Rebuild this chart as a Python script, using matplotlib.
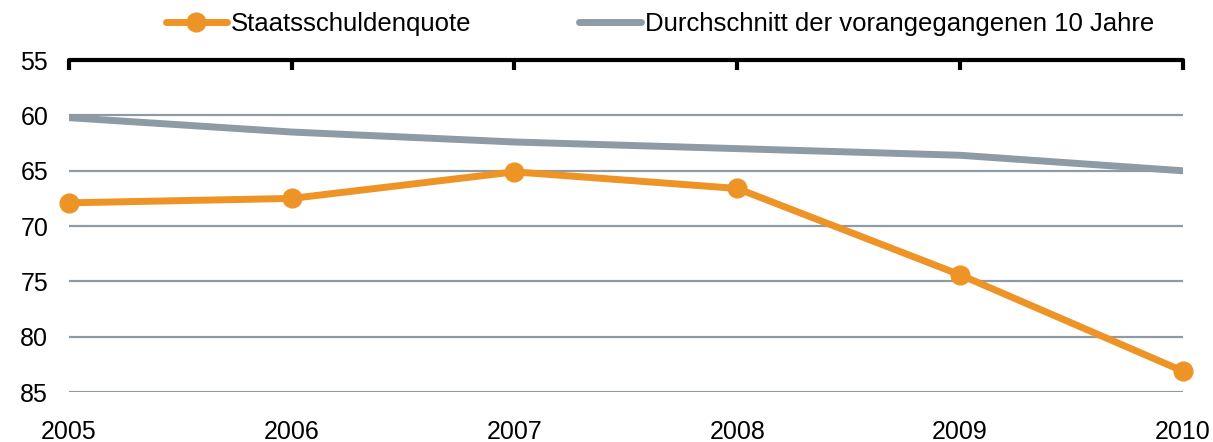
import matplotlib
matplotlib.use("Agg")
import matplotlib.pyplot as plt

years = [2005, 2006, 2007, 2008, 2009, 2010]
quote = [67.9, 67.5, 65.1, 66.6, 74.4, 83.1]
avg10 = [60.2, 61.5, 62.4, 63.0, 63.6, 65.0]
yticks = [55, 60, 65, 70, 75, 80, 85]

plt.rcParams['font.family'] = ['Liberation Sans', 'DejaVu Sans']

fig = plt.figure(figsize=(12.13, 4.42), dpi=100)
ax = fig.add_axes([0.0569, 0.113, 0.9181, 0.751])

orange = '#EE9427'
grey = '#8E9BA5'

ax.plot(years, avg10, color=grey, lw=5, solid_capstyle='round', zorder=3,
        label='Durchschnitt der vorangegangenen 10 Jahre')
ax.plot(years, quote, color=orange, lw=5, marker='o', markersize=13.5,
        solid_capstyle='round', zorder=4, label='Staatsschuldenquote', clip_on=False)

ax.set_xlim(2005, 2010)
ax.set_ylim(85, 55)
ax.set_yticks(yticks)
ax.set_xticks(years)
ax.set_xticklabels([str(y) for y in years])
ax.grid(axis='y', color=grey, lw=1.6)
ax.set_axisbelow(True)

for s in ['left', 'right', 'bottom']:
    ax.spines[s].set_visible(False)
ax.spines['top'].set_color('black')
ax.spines['top'].set_linewidth(3)
ax.spines['top'].set_capstyle('round')

ax.tick_params(axis='y', length=0, pad=15, labelsize=18)
ax.tick_params(axis='x', bottom=False, top=True, labelbottom=True, labeltop=False,
               direction='in', length=7, width=3, color='black', pad=20, labelsize=18)

h, l = ax.get_legend_handles_labels()
fig.legend([h[1], h[0]], [l[1], l[0]], loc='center', bbox_to_anchor=(0.544, 0.945),
           ncol=2, frameon=False, fontsize=18.5, handlelength=2.4, handletextpad=0.15,
           columnspacing=4.2, markerscale=1.0)

fig.savefig('out.png', dpi=100)
